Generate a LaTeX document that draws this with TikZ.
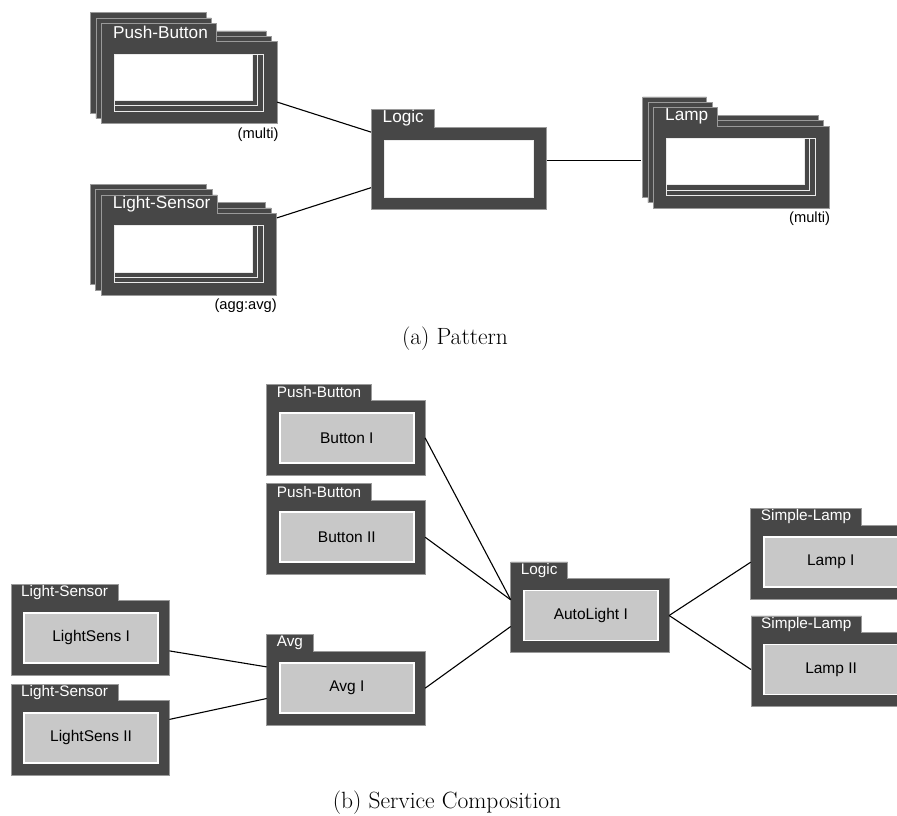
\documentclass[tikz,border=0pt]{standalone}
\usepackage{fontspec}
\newfontfamily\arialf{Liberation Sans}
\usetikzlibrary{calc}
\definecolor{framedark}{HTML}{474747}
\definecolor{innergray}{HTML}{C8C8C8}
\definecolor{edgegray}{HTML}{9A9A9A}
\pgfdeclarelayer{bg}
\pgfdeclarelayer{paper}
\pgfsetlayers{paper,bg,main}
\tikzset{
  pedge/.style={draw=edgegray, line width=0.6pt},
  pwin/.style={draw=white!92!black, line width=1pt},
  ptab/.style={text=white, font=\arialf\fontsize{17.2}{20}\selectfont, inner sep=0pt, anchor=west},
  pnote/.style={font=\arialf\fontsize{14.7}{17}\selectfont, inner sep=0pt, anchor=north east},
  pbody/.style={minimum width=175.5pt, minimum height=82pt, inner sep=0pt, anchor=north west},
  sbody/.style={minimum width=158pt, minimum height=74pt, inner sep=0pt, anchor=north west},
  stab/.style={text=white, font=\arialf\fontsize{15.3}{18}\selectfont, inner xsep=10pt, inner ysep=0pt, minimum height=16pt, anchor=south west},
  sinner/.style={fill=innergray, draw=white, line width=1.6pt, minimum width=134pt, minimum height=50pt, inner sep=0pt, anchor=north west, font=\arialf\fontsize{15.5}{18}\selectfont},
  conn/.style={draw=black, line width=1.1pt},
  caption/.style={font=\fontsize{23.5}{26}\selectfont, inner sep=0pt}
}
% pattern sheet: #1,#2 body top-left, #3 tab width
\newcommand\psheet[3]{%
  \fill[framedark, even odd rule] (#1,#2-18.4) -- ++(#3,0) -- ++(0,18.4) -- (#1+175.5,#2) -- (#1+175.5,#2+82) -- (#1,#2+82) -- cycle (#1+13,#2+12.5) rectangle (#1+162,#2+69.5);
  \draw[pedge] (#1,#2-18.4) -- ++(#3,0) -- ++(0,18.4) -- (#1+175.5,#2) -- (#1+175.5,#2+82) -- (#1,#2+82) -- cycle;
  \draw[pwin] (#1+13,#2+12.5) rectangle (#1+162,#2+69.5);
}
\newcommand\pstack[3]{%
  \psheet{#1-10.8}{#2-10.8}{#3}
  \psheet{#1-5.4}{#2-5.4}{#3}
  \psheet{#1}{#2}{#3}
}
% service box: #1 name, #2,#3 body top-left, #4 tab label, #5 inner text
\newcommand\svcbox[5]{%
  \node[sbody] (#1) at (#2,#3) {};
  \node[stab] (#1-tab) at (#1.north west) {#4};
  \node[sinner] (#1-in) at ([xshift=12.3pt,yshift=-11.3pt]#1.north west) {#5};
  \begin{pgfonlayer}{bg}
    \path[fill=framedark, draw=edgegray, line width=0.6pt] (#1-tab.north west) -- (#1-tab.north east) -- (#1-tab.south east) -- (#1.north east) -- (#1.south east) -- (#1.south west) -- cycle;
  \end{pgfonlayer}
}
\begin{document}
\begin{tikzpicture}[x=1pt,y=-1pt]
\useasboundingbox (0,0) rectangle (897,816);
\clip (0,0) rectangle (897,816);
\begin{pgfonlayer}{paper}
\fill[white] (0,0) rectangle (897,816);
\end{pgfonlayer}

% ---------- (a) Pattern ----------
\pstack{101.3}{41.7}{115.4}
\node[pbody] (pb) at (101.3,41.7) {};
\node[ptab] (pb-tab) at (113,32.5) {Push-Button};
\node[pnote] (pb-note) at ([yshift=-4pt,xshift=1.5pt]pb.south east) {(multi)};

\pstack{101}{213.3}{116.3}
\node[pbody] (ls) at (101,213.3) {};
\node[ptab] (ls-tab) at (112.7,204.1) {Light-Sensor};
\node[pnote] (ls-note) at ([yshift=-3pt]ls.south east) {(agg:avg)};

\psheet{371}{127.7}{63}
\node[pbody] (lg) at (371,127.7) {};
\node[ptab] (lg-tab) at (382.5,118.5) {Logic};

\pstack{653.3}{126}{64}
\node[pbody] (lp) at (653.3,126) {};
\node[ptab] (lp-tab) at (665,116.8) {Lamp};
\node[pnote] (lp-note) at ([yshift=-3.5pt,xshift=1pt]lp.south east) {(multi)};

\draw[conn] ([yshift=-19.2pt]pb.east) -- ([yshift=36.8pt]lg.west);
\draw[conn] ([yshift=36.6pt]ls.east) -- ([yshift=-18.8pt]lg.west);
\coordinate (lgout) at ([yshift=8.5pt]lg.east);
\coordinate (lpback) at ([xshift=-12pt]lp.west);
\draw[conn] (lgout) -- (lpback |- lgout);

\node[caption] (capa) at (455,339) {(a) Pattern};

% ---------- (b) Service Composition ----------
\svcbox{b1}{266.7}{400.7}{Push-Button}{Button I}
\svcbox{b2}{266.7}{500}{Push-Button}{Button II}
\svcbox{avg}{266.7}{651}{Avg}{Avg I}
\svcbox{s1}{11}{600.7}{Light-Sensor}{LightSens I}
\svcbox{s2}{11}{700.7}{Light-Sensor}{LightSens II}
\svcbox{al}{510.7}{578.3}{Logic}{AutoLight I}
\svcbox{l1}{750.7}{525}{Simple-Lamp}{Lamp I}
\svcbox{l2}{751}{632.3}{Simple-Lamp}{Lamp II}

\draw[conn] (b1.east) -- ([yshift=15.7pt]al.west);
\draw[conn] (b2.east) -- ([yshift=15.7pt]al.west);
\draw[conn] (avg.east) -- ([yshift=-11pt]al.west);
\draw[conn] ([yshift=-13pt]s1.east) -- ([yshift=21.3pt]avg.west);
\draw[conn] ([yshift=18.5pt]s2.east) -- ([yshift=-10.3pt]avg.west);
\draw[conn] (al.east) -- (l1.west);
\draw[conn] (al.east) -- (l2.west);

\node[caption] (capb) at (447,803) {(b) Service Composition};
\end{tikzpicture}
\end{document}
